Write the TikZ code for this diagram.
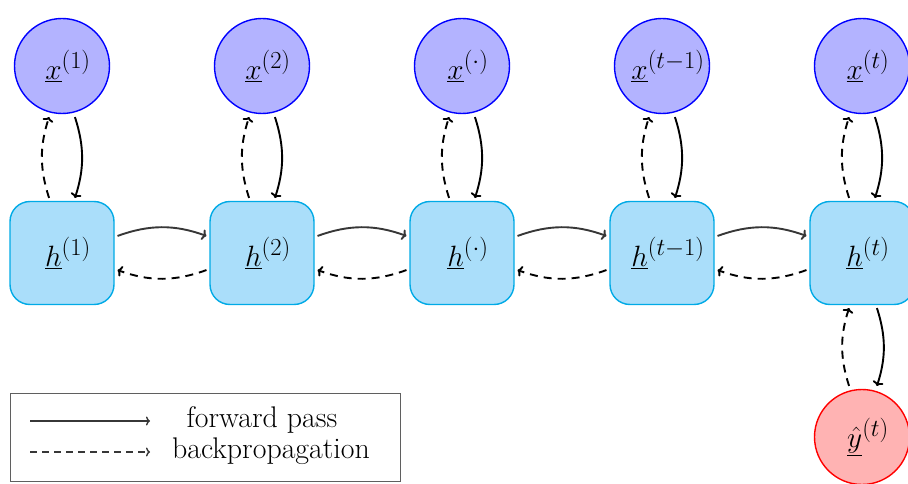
\documentclass[tikz,border=0pt]{standalone}
\usepackage{graphicx}
\usetikzlibrary{arrows.meta,calc}
\definecolor{hfill}{RGB}{170,222,250}
\definecolor{hdraw}{RGB}{0,170,230}
\definecolor{xfill}{RGB}{179,179,255}
\definecolor{yfill}{RGB}{255,179,179}
\definecolor{fwgray}{RGB}{55,55,55}
% large math labels and legend text
\newcommand{\mlabel}[1]{\kern12pt\scalebox{1.18}{\Huge$#1$}}
\newcommand{\ltext}[1]{\scalebox{1.2}{\Huge #1}}
\tikzset{
  inputnode/.style={circle,draw=blue,fill=xfill,line width=1.4pt,minimum size=95pt,inner sep=0pt},
  outnode/.style={circle,draw=red,fill=yfill,line width=1.4pt,minimum size=95pt,inner sep=0pt},
  hiddennode/.style={rectangle,rounded corners=20pt,draw=hdraw,fill=hfill,line width=1.4pt,minimum width=104pt,minimum height=103pt,inner sep=0pt},
  tip/.style={-{To[length=4.5pt,width=11pt]}},
  fwd/.style={tip,line width=1.9pt,shorten <=3pt,shorten >=3pt},
  bwd/.style={tip,line width=1.9pt,dash pattern=on 8pt off 6pt,shorten <=3pt,shorten >=3pt},
  legendtext/.style={anchor=center,inner sep=0pt}
}
\begin{document}
\begin{tikzpicture}[x=1pt,y=-1pt]
  \useasboundingbox (0,0) rectangle (908,484);
  % inputs, hidden states and output
  \node[inputnode] (x1) at (62,66) {\mlabel{\underline{x}^{(1)}}};
  \node[inputnode] (x2) at (262,66) {\mlabel{\underline{x}^{(2)}}};
  \node[inputnode] (x3) at (462,66) {\mlabel{\underline{x}^{(\cdot)}}};
  \node[inputnode] (x4) at (662,66) {\mlabel{\underline{x}^{(t-1)}}};
  \node[inputnode] (x5) at (862,66) {\mlabel{\underline{x}^{(t)}}};
  \node[hiddennode] (h1) at (62,253) {\mlabel{\underline{h}^{(1)}}};
  \node[hiddennode] (h2) at (262,253) {\mlabel{\underline{h}^{(2)}}};
  \node[hiddennode] (h3) at (462,253) {\mlabel{\underline{h}^{(\cdot)}}};
  \node[hiddennode] (h4) at (662,253) {\mlabel{\underline{h}^{(t-1)}}};
  \node[hiddennode] (h5) at (862,253) {\mlabel{\underline{h}^{(t)}}};
  \node[outnode] (y) at (862,437) {\mlabel{\underline{\hat{y}}^{(t)}}};
  % input -> hidden (forward) and back
  \foreach \i in {1,...,5}{
    \draw[fwd,black] ([xshift=12pt]x\i.south) to[bend left=18] ([xshift=12pt]h\i.north);
    \draw[bwd,black] ([xshift=-12pt]h\i.north) to[bend left=18] ([xshift=-12pt]x\i.south);
  }
  % hidden -> hidden
  \foreach \i/\j in {1/2,2/3,3/4,4/5}{
    \draw[fwd,fwgray] ([yshift=16pt]h\i.east) to[bend left=20] ([yshift=16pt]h\j.west);
    \draw[bwd,black] ([yshift=-16pt]h\j.west) to[bend left=20] ([yshift=-16pt]h\i.east);
  }
  % hidden -> output and back
  \draw[fwd,black] ([xshift=14pt]h5.south) to[bend left=18] ([xshift=14pt]y.north);
  \draw[bwd,black] ([xshift=-12pt]y.north) to[bend left=18] ([xshift=-12pt]h5.south);
  % legend
  \node[draw=fwgray!80,line width=0.8pt,minimum width=390pt,minimum height=88pt] (leg) at (205,437) {};
  \coordinate (fa) at (30,421);
  \coordinate (fb) at (150,421);
  \coordinate (ba) at (30,452);
  \coordinate (bb) at (150,452);
  \draw[fwgray,line width=1.4pt,-{To[length=4pt,width=9pt]}] (fa) -- (fb);
  \draw[fwgray,line width=1.4pt,dash pattern=on 7pt off 5pt,-{To[length=4pt,width=9pt]}] (ba) -- (bb);
  \node[legendtext] (lf) at (262,420) {\ltext{forward pass}};
  \node[legendtext] (lb) at (271,451) {\ltext{backpropagation}};
\end{tikzpicture}
\end{document}
